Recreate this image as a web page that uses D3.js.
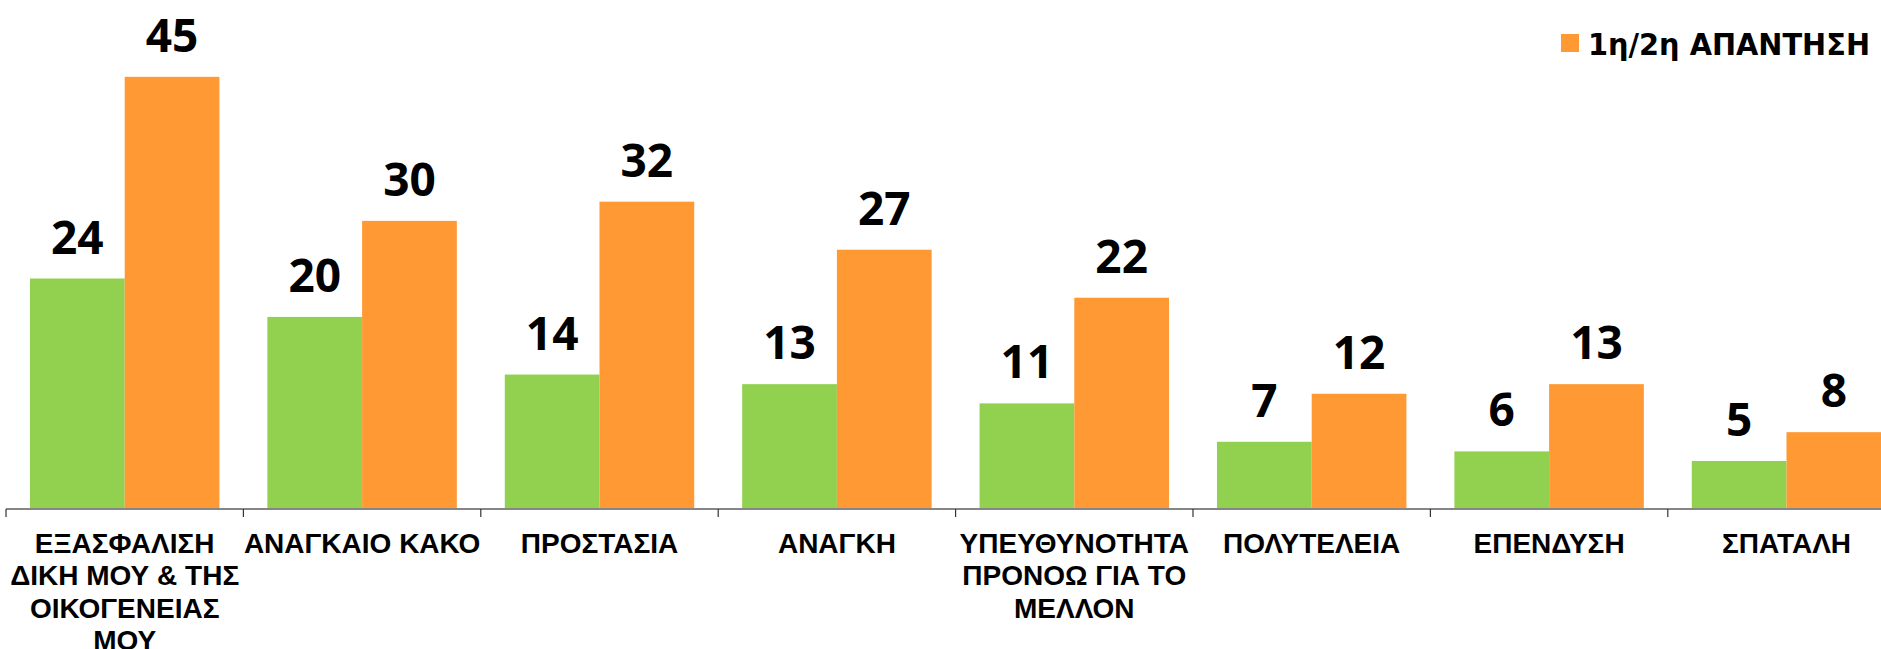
<!DOCTYPE html>
<html>
<head>
<meta charset="utf-8">
<script src="https://cdn.jsdelivr.net/npm/d3@7"></script>
<style>
  body { margin: 0; background: #fff; overflow: hidden; }
</style>
</head>
<body>
<div id="chart"></div>
<script>
var width = 1881, height = 649;

var categories = ["ΕΞΑΣΦΑΛΙΣΗ ΔΙΚΗ ΜΟΥ & ΤΗΣ ΟΙΚΟΓΕΝΕΙΑΣ ΜΟΥ", "ΑΝΑΓΚΑΙΟ ΚΑΚΟ", "ΠΡΟΣΤΑΣΙΑ", "ΑΝΑΓΚΗ",
  "ΥΠΕΥΘΥΝΟΤΗΤΑ ΠΡΟΝΟΩ ΓΙΑ ΤΟ ΜΕΛΛΟΝ", "ΠΟΛΥΤΕΛΕΙΑ", "ΕΠΕΝΔΥΣΗ", "ΣΠΑΤΑΛΗ"];
var firstAnswer = [24, 20, 14, 13, 11, 7, 6, 5];
var firstSecondAnswer = [45, 30, 32, 27, 22, 12, 13, 8];
var seriesNames = ["1η ΑΠΑΝΤΗΣΗ", "1η/2η ΑΠΑΝΤΗΣΗ"];
var colors = ["#92D050", "#FF9933"];

var axisY = 509;
var step = 237.4;

var svg = d3.select("#chart").append("svg")
  .attr("width", width)
  .attr("height", height);

var x = d3.scaleBand()
  .domain(categories)
  .range([6, 6 + step * categories.length])
  .paddingInner(0.202)
  .paddingOuter(0.101);

var xSub = d3.scaleBand()
  .domain([0, 1])
  .range([0, x.bandwidth()]);

var y = d3.scaleLinear()
  .domain([0, 53])
  .range([axisY, 0]);

var rows = categories.map(function(c, i) {
  return { cat: c, vals: [firstAnswer[i], firstSecondAnswer[i]] };
});

var groups = svg.selectAll("g.cat")
  .data(rows)
  .enter()
  .append("g")
  .attr("class", "cat")
  .attr("transform", function(d) { return "translate(" + x(d.cat) + ",0)"; });

groups.selectAll("rect")
  .data(function(d) { return d.vals; })
  .enter()
  .append("rect")
  .attr("x", function(d, i) { return xSub(i); })
  .attr("y", function(d) { return y(d); })
  .attr("width", xSub.bandwidth())
  .attr("height", function(d) { return axisY - y(d); })
  .attr("fill", function(d, i) { return colors[i]; });

groups.selectAll("text.val")
  .data(function(d) { return d.vals; })
  .enter()
  .append("text")
  .attr("class", "val")
  .attr("x", function(d, i) { return xSub(i) + xSub.bandwidth() / 2; })
  .attr("y", function(d) { return y(d) - 25; })
  .attr("text-anchor", "middle")
  .style("font-family", "'Open Sans', sans-serif")
  .style("font-weight", "700")
  .style("font-size", "46px")
  .style("fill", "#000")
  .text(function(d) { return d; });

// axis line
svg.append("line")
  .attr("x1", x.range()[0]).attr("x2", width)
  .attr("y1", axisY).attr("y2", axisY)
  .attr("stroke", "#868686")
  .attr("stroke-width", 2);

// boundary ticks
var bounds = d3.range(categories.length + 1).map(function(i) { return x.range()[0] + i * x.step(); });
svg.selectAll("line.tick")
  .data(bounds)
  .enter()
  .append("line")
  .attr("class", "tick")
  .attr("x1", function(d) { return d; }).attr("x2", function(d) { return d; })
  .attr("y1", axisY).attr("y2", axisY + 8)
  .attr("stroke", "#333")
  .attr("stroke-width", 1.2);

// category labels
var labels = svg.selectAll("text.cat")
  .data(categories)
  .enter()
  .append("text")
  .attr("class", "cat")
  .attr("x", function(d) { return x(d) + x.bandwidth() / 2; })
  .attr("y", 553)
  .attr("text-anchor", "middle")
  .style("font-family", "'Liberation Sans', Arial, sans-serif")
  .style("font-weight", "700")
  .style("font-size", "28px")
  .style("fill", "#000")
  .each(function(d) {
    var t = d3.select(this), words = d.split(" "), line = [], n = 0;
    var tspan = t.append("tspan").attr("x", t.attr("x")).attr("dy", 0);
    words.forEach(function(w) {
      line.push(w);
      tspan.text(line.join(" "));
      if (tspan.node().getComputedTextLength() > 240 && line.length > 1) {
        line.pop();
        tspan.text(line.join(" "));
        line = [w];
        n++;
        tspan = t.append("tspan").attr("x", t.attr("x")).attr("dy", 32.3).text(w);
      }
    });
  });

// legend
svg.append("rect")
  .attr("x", 1561).attr("y", 34)
  .attr("width", 18).attr("height", 18)
  .attr("fill", colors[1]);
svg.append("text")
  .attr("x", 1588).attr("y", 55)
  .attr("textLength", 282)
  .attr("lengthAdjust", "spacingAndGlyphs")
  .style("font-family", "'DejaVu Sans', Verdana, sans-serif")
  .style("font-weight", "700")
  .style("font-size", "30px")
  .style("fill", "#000")
  .text(seriesNames[1]);
</script>
</body>
</html>
